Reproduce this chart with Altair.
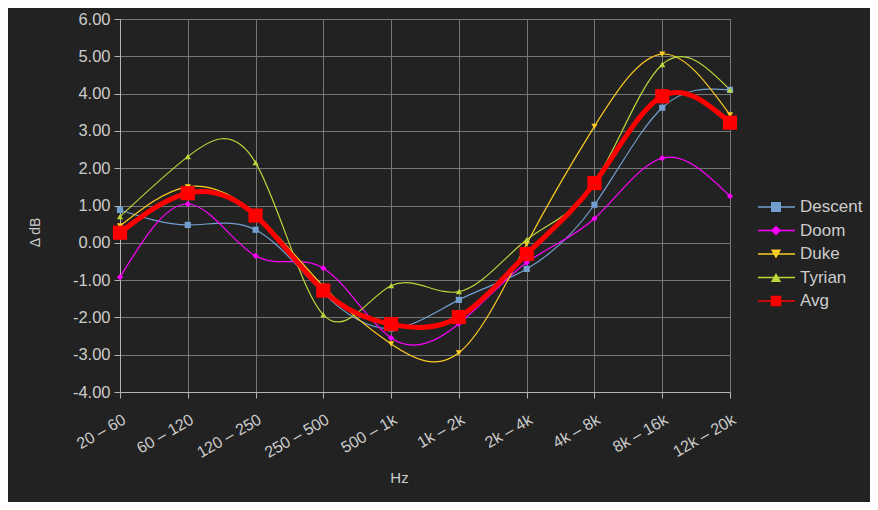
import altair as alt
import pandas as pd

bands = ["20 – 60", "60 – 120", "120 – 250", "250 – 500", "500 – 1k",
         "1k – 2k", "2k – 4k", "4k – 8k", "8k – 16k", "12k – 20k"]
descent = [0.88, 0.48, 0.35, -1.35, -2.30, -1.53, -0.70, 1.02, 3.62, 4.10]
doom = [-0.92, 1.04, -0.35, -0.68, -2.55, -2.17, -0.53, 0.65, 2.27, 1.25]
duke = [0.45, 1.50, 0.77, -1.17, -2.71, -2.95, -0.03, 3.12, 5.06, 3.43]
tyrian = [0.70, 2.31, 2.15, -1.93, -1.15, -1.31, 0.08, 1.61, 4.78, 4.10]
avg = [0.27, 1.33, 0.73, -1.28, -2.18, -1.99, -0.30, 1.60, 3.93, 3.22]

series_names = ["Descent", "Doom", "Duke", "Tyrian", "Avg"]
series_colors = ["#729fcf", "#ff00ff", "#ffcc22", "#bcd63a", "#ff0000"]
series_shapes = ["square", "diamond", "triangle-down", "triangle-up", "square"]

rows = []
for name, vals in zip(series_names[:4], [descent, doom, duke, tyrian]):
    for b, v in zip(bands, vals):
        rows.append({"band": b, "value": v, "series": name})
df = pd.DataFrame(rows)
df_avg = pd.DataFrame({"band": bands, "value": avg, "series": "Avg"})
df_leg = pd.DataFrame({"series": series_names})

FONT = "Liberation Sans"
TXT = "#cccccc"
GRID = "#767676"
AXC = "#b3b3b3"

color_scale = alt.Scale(domain=series_names, range=series_colors)
shape_scale = alt.Scale(domain=series_names, range=series_shapes)

x_enc = alt.X("band:N", sort=bands,
              scale=alt.Scale(type="point", padding=0, domain=bands),
              axis=alt.Axis(title="Hz", labelAngle=-30, labelAlign="right",
                            labelBaseline="top", labelFontSize=16,
                            labelPadding=13, tickSize=6,
                            grid=True, gridColor=GRID, gridOpacity=1,
                            domainColor=AXC, tickColor=AXC,
                            labelColor=TXT, titleColor=TXT,
                            titleX=279, titleY=85, titleBaseline="middle",
                            titleFontSize=15, titleFontWeight="normal"))
y_enc = alt.Y("value:Q",
              scale=alt.Scale(domain=[-4, 6], nice=False, zero=False),
              axis=alt.Axis(title="Δ dB", values=list(range(-4, 7)),
                            labelExpr="replace(format(datum.value, '.2f'), '−', '-')",
                            labelFontSize=16.5, tickSize=6, labelPadding=4,
                            grid=True, gridColor=GRID, gridOpacity=1,
                            domainColor=AXC, tickColor=AXC,
                            labelColor=TXT, titleColor=TXT,
                            titleX=-85, titleY=213, titleAngle=270,
                            titleBaseline="middle", titleAlign="center",
                            titleFontSize=14, titleFontWeight="normal"))

base = alt.Chart(df).encode(
    x=x_enc, y=y_enc,
    color=alt.Color("series:N", scale=color_scale, legend=None),
)
lines = base.mark_line(interpolate="natural", strokeWidth=1.2)
points = base.mark_point(filled=True, size=38, opacity=1).encode(
    shape=alt.Shape("series:N", scale=shape_scale, legend=None))

avg_base = alt.Chart(df_avg).encode(x=x_enc, y=y_enc)
avg_line = avg_base.mark_line(interpolate="natural", strokeWidth=5, color="#ff0000")
avg_pts = avg_base.mark_point(shape="square", filled=True, size=200,
                              color="#ff0000", opacity=1)

plot = alt.layer(lines, points, avg_line, avg_pts)

leg_y = alt.Y("series:N", sort=series_names,
              scale=alt.Scale(type="point", padding=0, domain=series_names,
                              range=[188, 282]),
              axis=None)
leg_base = alt.Chart(df_leg).encode(y=leg_y)
leg_rule = leg_base.mark_rule().encode(
    x=alt.value(638), x2=alt.value(675),
    color=alt.Color("series:N", scale=color_scale, legend=None),
    strokeWidth=alt.StrokeWidth("series:N",
                                scale=alt.Scale(domain=series_names,
                                                range=[1.5, 1.5, 1.5, 1.5, 6]),
                                legend=None))
leg_pts = leg_base.mark_point(filled=True, opacity=1).encode(
    x=alt.value(656),
    color=alt.Color("series:N", scale=color_scale, legend=None),
    shape=alt.Shape("series:N", scale=shape_scale, legend=None),
    size=alt.Size("series:N",
                  scale=alt.Scale(domain=series_names,
                                  range=[100, 110, 110, 110, 150]),
                  legend=None))
leg_txt = leg_base.mark_text(align="left", baseline="middle", fontSize=17,
                             font=FONT, color=TXT).encode(
    x=alt.value(680), text="series:N")
legend = alt.layer(leg_rule, leg_pts, leg_txt)

chart = alt.layer(plot, legend).resolve_scale(y="independent").properties(
    width=610, height=373,
    autosize=alt.AutoSizeParams(type="none"),
    padding={"left": 112, "top": 11, "right": 140, "bottom": 110},
    background="#222222",
).configure_view(stroke=None).configure_axis(
    labelFont=FONT, titleFont=FONT,
    gridWidth=1, domainWidth=1, tickWidth=1,
).configure(font=FONT)

chart.save("out.html", embed_options={"renderer": "svg", "actions": False})
